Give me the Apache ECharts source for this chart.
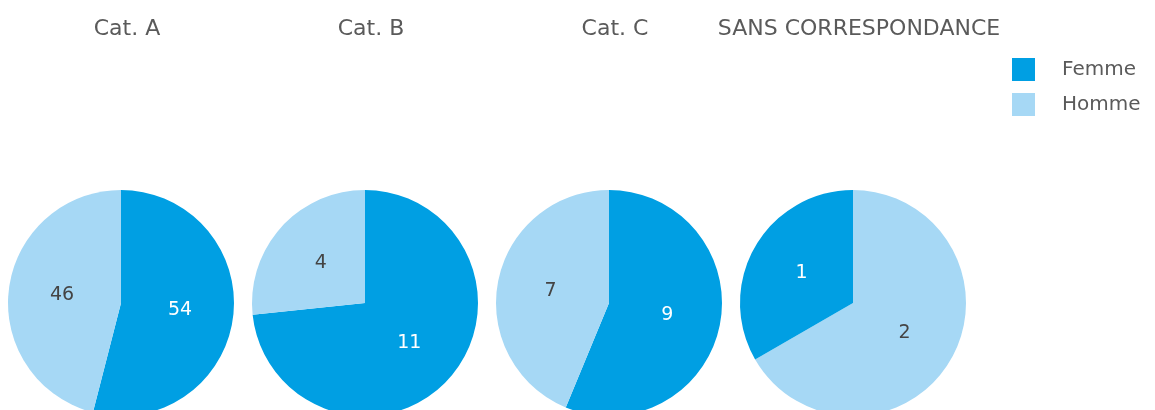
<!DOCTYPE html>
<html>
<head>
<meta charset="utf-8">
<script src="https://cdn.jsdelivr.net/npm/echarts@6/dist/echarts.min.js"></script>
<style>
  html, body { margin: 0; padding: 0; background: #fff; }
  #chart { width: 1155px; height: 410px; }
</style>
</head>
<body>
<div id="chart"></div>
<script>
const categories = ['Cat. A', 'Cat. B', 'Cat. C', 'SANS CORRESPONDANCE']
const femme = [54, 11, 9, 1]
const homme = [46, 4, 7, 2]
const centersX = [121, 365, 609, 853]

const colors = { Femme: '#009fe3', Homme: '#a6d8f5' }
const labelColors = { Femme: '#ffffff', Homme: '#444444' }
const font = 'DejaVu Sans'

var myChart = echarts.init(document.getElementById('chart'))

const series = categories.map((cat, i) => {
  const items = [
    { name: 'Femme', value: femme[i] },
    { name: 'Homme', value: homme[i] }
  ].sort((a, b) => b.value - a.value)
  return {
    name: cat,
    type: 'pie',
    center: [centersX[i], 303],
    radius: [0, 113],
    startAngle: 90,
    clockwise: true,
    avoidLabelOverlap: false,
    animation: false,
    emphasis: { disabled: true },
    label: {
      show: true,
      position: 'inside',
      fontFamily: font,
      fontSize: 19,
      formatter: p => p.value
    },
    labelLine: { show: false },
    data: items.map(d => ({
      name: d.name,
      value: d.value,
      itemStyle: { color: colors[d.name] },
      label: { color: labelColors[d.name] }
    }))
  }
})

var option = {
  backgroundColor: '#ffffff',
  title: categories.map((cat, i) => ({
    text: cat,
    left: centersX[i] + 1,
    top: 13,
    textAlign: 'center',
    textStyle: {
      fontFamily: font,
      fontSize: 22,
      fontWeight: 'normal',
      color: '#5a5a5a'
    }
  })),
  legend: {
    orient: 'vertical',
    left: 1007,
    top: 53,
    icon: 'rect',
    itemWidth: 23,
    itemHeight: 23,
    itemGap: 12,
    data: ['Femme', 'Homme'],
    textStyle: { fontFamily: font, fontSize: 20, color: '#5a5a5a', padding: [0, 0, 0, 22] },
    selectedMode: false
  },
  series: series
}
option && myChart.setOption(option)
</script>
</body>
</html>
